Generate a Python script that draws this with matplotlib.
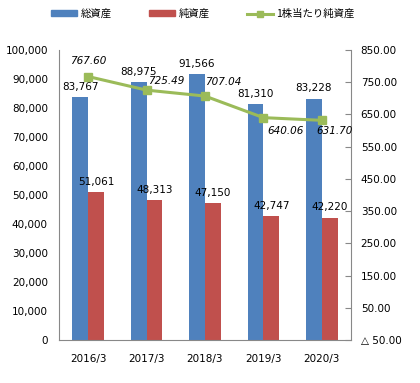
import matplotlib
matplotlib.use("Agg")
import matplotlib.pyplot as plt
import numpy as np
from matplotlib.lines import Line2D
from matplotlib.patches import Patch

plt.rcParams['font.family'] = ['DejaVu Sans', 'Noto Sans CJK JP']

categories = ["2016/3", "2017/3", "2018/3", "2019/3", "2020/3"]
total_assets = [83767, 88975, 91566, 81310, 83228]
net_assets = [51061, 48313, 47150, 42747, 42220]
bps = [767.60, 725.49, 707.04, 640.06, 631.70]
left_ticks = [0, 10000, 20000, 30000, 40000, 50000, 60000, 70000, 80000, 90000, 100000]
right_ticks = [-50, 50, 150, 250, 350, 450, 550, 650, 750, 850]

blue = "#4F81BD"
red = "#C0504D"
green = "#9BBB59"

fig = plt.figure(figsize=(4.2, 3.83), dpi=100)
ax = fig.add_axes([59/420, 1-340/383, 292/420, 290/383])
x = np.arange(len(categories))
w = 0.27
ax.bar(x - w/2, total_assets, w, color=blue, zorder=2)
ax.bar(x + w/2, net_assets, w, color=red, zorder=2)
ax.set_xlim(-0.5, len(categories) - 0.5)
ax.set_ylim(0, 100000)
ax.set_yticks(left_ticks)
ax.set_yticklabels([f"{v:,}" for v in left_ticks], fontsize=7.5)
ax.set_xticks(x)
ax.set_xticklabels(categories, fontsize=7.5)
ax.tick_params(axis='both', length=0, pad=8)
ax.tick_params(axis='x', pad=10)
for s in ['top', 'right']:
    ax.spines[s].set_visible(False)
for s in ['left', 'bottom']:
    ax.spines[s].set_color('#888888')

for i, v in enumerate(total_assets):
    ax.text(x[i] - w/2, v + 1800, f"{v:,}", ha='center', va='bottom', fontsize=7.5)
for i, v in enumerate(net_assets):
    ax.text(x[i] + w/2, v + 1800, f"{v:,}", ha='center', va='bottom', fontsize=7.5)

ax2 = ax.twinx()
ax2.plot(x, bps, color=green, lw=2.2, marker='s', ms=6, zorder=3)
ax2.set_ylim(-50, 850)
ax2.set_yticks(right_ticks)
ax2.set_yticklabels([("△ " + f"{abs(v):.2f}") if v < 0 else f"{v:.2f}" for v in right_ticks], fontsize=7.5)
ax2.tick_params(axis='y', direction='in', length=4, color='#888888', pad=7)
for s in ['top', 'left', 'bottom']:
    ax2.spines[s].set_visible(False)
ax2.spines['right'].set_color('#888888')

offsets = [(0, 11, 'center'), (1, 6.5, 'left'), (0, 10, 'left'), (3, -9.4, 'left'), (-3.6, -8, 'left')]
for i, v in enumerate(bps):
    dx, dy, ha = offsets[i]
    ax2.annotate(f"{v:.2f}", (x[i], v), xytext=(dx, dy), textcoords='offset points',
                 ha=ha, va='center', fontsize=7.5, style='italic')

handles = [Patch(color=blue), Patch(color=red),
           Line2D([0], [0], color=green, lw=2.2, marker='s', ms=5)]
labels = ["総資産", "純資産", "1株当たり純資産"]
fig.legend(handles, labels, loc='center', bbox_to_anchor=(203/420, 1-14/383), ncol=3,
           frameon=False, handlelength=2.5, handleheight=0.5,
           columnspacing=3.6, handletextpad=0.3,
           prop={'family': ['Noto Sans CJK JP', 'DejaVu Sans'], 'size': 7.5})

fig.savefig("out.png", dpi=100)
